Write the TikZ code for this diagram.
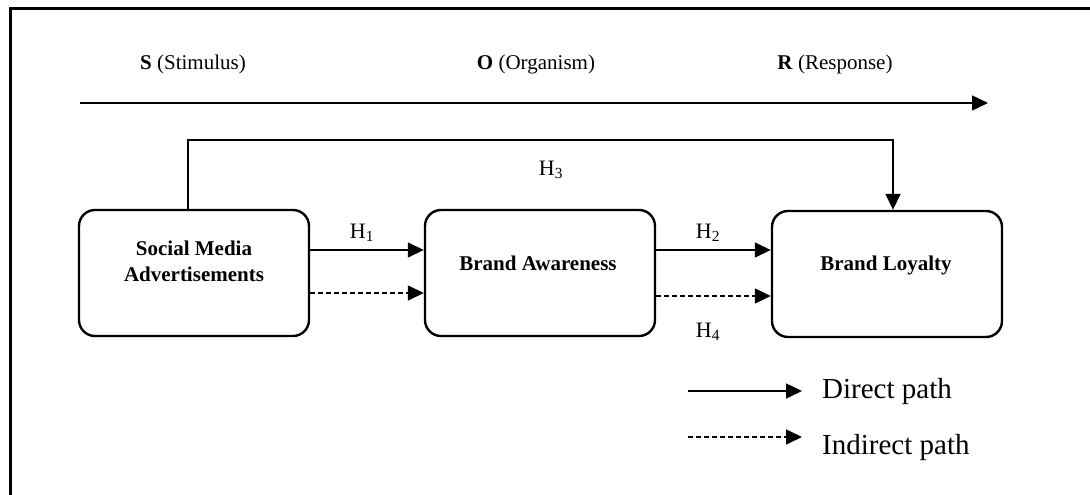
\documentclass[tikz,border=0pt]{standalone}
\usepackage{fontspec}
\setmainfont{Liberation Serif}
\usetikzlibrary{arrows.meta}

\begin{document}
\begin{tikzpicture}[x=1pt,y=1pt]
\tikzstyle{every node}+=[inner sep=0pt]
\tikzstyle{box}=[draw, line width=2.4pt, rounded corners=16pt, minimum width=230pt, minimum height=126pt]
\tikzstyle{boxtext}=[font=\fontsize{21}{26}\selectfont\bfseries, align=center, anchor=base]
\tikzstyle{stage}=[font=\fontsize{21}{25}\selectfont, anchor=base]
\tikzstyle{hyp}=[font=\fontsize{22}{26}\selectfont, anchor=base]
\tikzstyle{legend}=[font=\fontsize{29}{34}\selectfont, anchor=base west]
\tikzstyle{direct}=[line width=1.5pt, -{Triangle[length=16pt,width=15pt]}]
\tikzstyle{indirect}=[direct, dash pattern=on 5pt off 3pt]
\useasboundingbox (0,0) rectangle (1090,-495);
\draw [line width=3pt] (10,-500) -- (10,-9) -- (1095,-9);
\node [stage] (s) at (193,-70) {\textbf{S} (Stimulus)};
\node [stage] (o) at (536,-70) {\textbf{O} (Organism)};
\node [stage] (r) at (835,-70) {\textbf{R} (Response)};
\coordinate (flowstart) at (80,-103);
\coordinate (flowend) at (988,-103);
\draw [direct] (flowstart) -- (flowend);
\node [box] (sma) at (194,-273) {};
\node [boxtext] (smatext) at (194,-281) {Social Media\\Advertisements};
\node [box] (ba) at (540,-273) {};
\node [boxtext] (batext) at (538,-270) {Brand Awareness};
\node [box] (bl) at (887,-274) {};
\node [boxtext] (bltext) at (886,-270) {Brand Loyalty};
\coordinate (h3a) at (188,-140);
\coordinate (h3b) at (893,-140);
\draw [direct] (h3a |- sma.north) -- (h3a) -- (h3b) -- (h3b |- bl.north);
\node [hyp] (h3) at (551,-175) {H\textsubscript{3}};
\draw [direct] ([yshift=23pt]sma.east) -- ([yshift=23pt]ba.west);
\draw [indirect] ([yshift=-20pt]sma.east) -- ([yshift=-20pt]ba.west);
\node [hyp] (h1) at (362,-238) {H\textsubscript{1}};
\draw [direct] ([yshift=23pt]ba.east) -- ([yshift=24pt]bl.west);
\draw [indirect] ([yshift=-23pt]ba.east) -- ([yshift=-22pt]bl.west);
\node [hyp] (h2) at (708,-238) {H\textsubscript{2}};
\node [hyp] (h4) at (708,-337) {H\textsubscript{4}};
\coordinate (dstart) at (688,-391);
\coordinate (dend) at (802,-391);
\draw [direct] (dstart) -- (dend);
\node [legend] (dlabel) at (822,-398) {Direct path};
\coordinate (istart) at (688,-437);
\coordinate (iend) at (802,-437);
\draw [indirect] (istart) -- (iend);
\node [legend] (ilabel) at (822,-454) {Indirect path};
\end{tikzpicture}
\end{document}
